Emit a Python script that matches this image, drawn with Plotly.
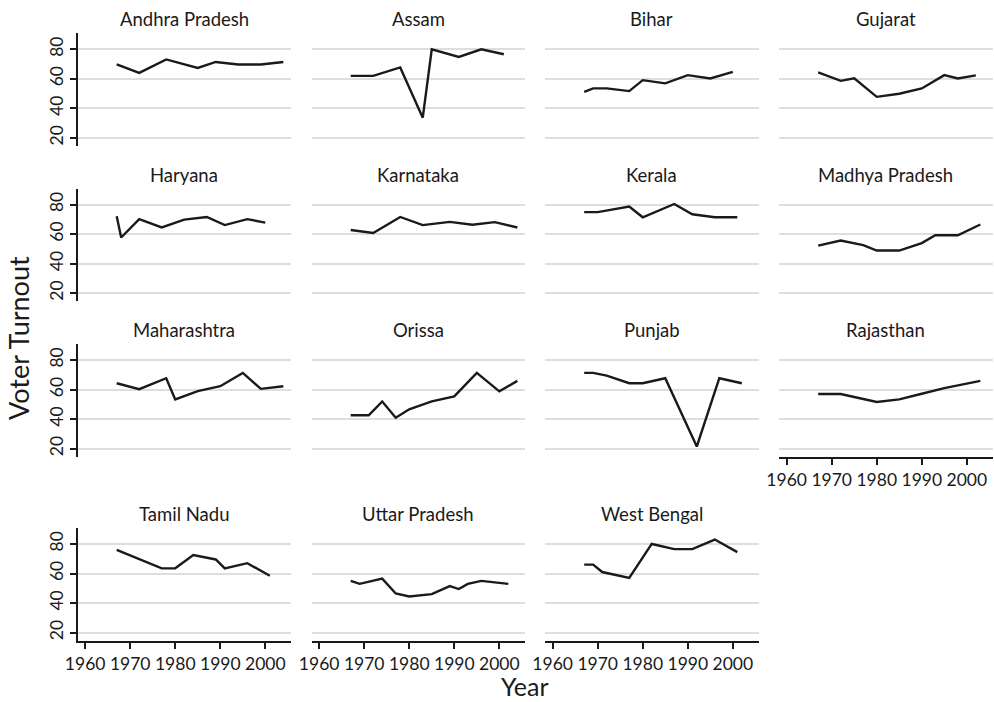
import plotly.graph_objects as go

W, H = 994, 702

states = ["Andhra Pradesh", "Assam", "Bihar", "Gujarat",
          "Haryana", "Karnataka", "Kerala", "Madhya Pradesh",
          "Maharashtra", "Orissa", "Punjab", "Rajasthan",
          "Tamil Nadu", "Uttar Pradesh", "West Bengal"]

andhra_years = [1967, 1972, 1978, 1985, 1989, 1994, 1999, 2004]
andhra_turnout = [69.7, 64.0, 73.1, 67.4, 71.4, 69.7, 69.7, 71.4]

assam_years = [1967, 1972, 1978, 1983, 1985, 1991, 1996, 2001]
assam_turnout = [62.0, 62.0, 67.7, 33.7, 80.0, 74.8, 80.0, 76.6]

bihar_years = [1967, 1969, 1972, 1977, 1980, 1985, 1990, 1995, 2000]
bihar_turnout = [51.2, 53.5, 53.5, 51.7, 59.1, 56.9, 62.5, 60.2, 64.7]

gujarat_years = [1967, 1972, 1975, 1980, 1985, 1990, 1995, 1998, 2002]
gujarat_turnout = [64.3, 58.6, 60.4, 47.8, 49.9, 53.5, 62.5, 60.2, 62.3]

haryana_years = [1967, 1968, 1972, 1977, 1982, 1987, 1991, 1996, 2000]
haryana_turnout = [72.1, 57.7, 70.1, 64.5, 69.8, 71.6, 66.1, 70.1, 67.8]

karnataka_years = [1967, 1972, 1978, 1983, 1989, 1994, 1999, 2004]
karnataka_turnout = [62.8, 60.8, 71.6, 66.1, 68.3, 66.3, 68.1, 64.5]

kerala_years = [1967, 1970, 1977, 1980, 1987, 1991, 1996, 2001]
kerala_turnout = [74.9, 74.9, 78.7, 71.4, 80.4, 73.4, 71.4, 71.4]

mp_years = [1967, 1972, 1977, 1980, 1985, 1990, 1993, 1998, 2003]
mp_turnout = [52.2, 55.7, 52.6, 48.9, 48.9, 53.9, 59.2, 59.2, 66.5]

maharashtra_years = [1967, 1972, 1978, 1980, 1985, 1990, 1995, 1999, 2004]
maharashtra_turnout = [64.3, 60.3, 67.7, 53.4, 59.0, 62.3, 71.3, 60.5, 62.3]

orissa_years = [1967, 1971, 1974, 1977, 1980, 1985, 1990, 1995, 2000, 2004]
orissa_turnout = [42.6, 42.6, 52.0, 41.0, 46.7, 52.0, 55.4, 71.3, 58.8, 65.9]

punjab_years = [1967, 1969, 1972, 1977, 1980, 1985, 1992, 1997, 2002]
punjab_turnout = [71.3, 71.3, 69.5, 64.3, 64.3, 67.7, 21.5, 67.7, 64.3]

rajasthan_years = [1967, 1972, 1980, 1985, 1990, 1995, 2003]
rajasthan_turnout = [57.0, 57.0, 51.6, 53.4, 57.2, 61.0, 65.9]

tn_years = [1967, 1977, 1980, 1984, 1989, 1991, 1996, 2001]
tn_turnout = [76.0, 63.5, 63.5, 72.5, 69.5, 63.5, 67.0, 58.5]

up_years = [1967, 1969, 1974, 1977, 1980, 1985, 1989, 1991, 1993, 1996, 2002]
up_turnout = [55.0, 53.0, 56.5, 46.5, 44.5, 46.0, 51.5, 49.5, 53.0, 55.0, 53.0]

wb_years = [1967, 1969, 1971, 1977, 1982, 1987, 1991, 1996, 2001]
wb_turnout = [66.0, 66.0, 61.0, 57.0, 80.0, 76.5, 76.5, 83.0, 74.5]

series_years = [andhra_years, assam_years, bihar_years, gujarat_years,
                haryana_years, karnataka_years, kerala_years, mp_years,
                maharashtra_years, orissa_years, punjab_years, rajasthan_years,
                tn_years, up_years, wb_years]
series_turnout = [andhra_turnout, assam_turnout, bihar_turnout, gujarat_turnout,
                  haryana_turnout, karnataka_turnout, kerala_turnout, mp_turnout,
                  maharashtra_turnout, orissa_turnout, punjab_turnout, rajasthan_turnout,
                  tn_turnout, up_turnout, wb_turnout]

x_ticks = [1960, 1970, 1980, 1990, 2000]
x_tick_labels = ["1960", "1970", "1980", "1990", "2000"]
y_ticks = [20, 40, 60, 80]
y_tick_labels = ["20", "40", "60", "80"]

FONT = "Lato"
INK = "#1a1a1a"
GRID = "#dedede"

col_left = [77.5, 311.5, 545.0, 779.0]
col_w = 213.5
row_top = [33.3, 188.6, 344.1, 528.0]
row_h = 112.6

x_range = [1958.3, 2005.7]
y_range = [14.6, 90.8]

bottom_panels = {11, 12, 13, 14}
TICK_SIZE = 17.5
STRIP_SIZE = 18.5
TITLE_SIZE = 25

fig = go.Figure()
layout = dict(
    width=W, height=H,
    margin=dict(l=0, r=0, t=0, b=0, autoexpand=False),
    paper_bgcolor="white", plot_bgcolor="white",
    showlegend=False,
    font=dict(family=FONT, color=INK),
)
annotations = []

for i, name in enumerate(states):
    r, c = divmod(i, 4)
    x0 = col_left[c] / W
    x1 = (col_left[c] + col_w) / W
    y1 = 1 - row_top[r] / H
    y0 = 1 - (row_top[r] + row_h) / H
    suffix = "" if i == 0 else str(i + 1)
    xa = dict(domain=[x0, x1], range=x_range, anchor="y" + suffix,
              showgrid=False, zeroline=False, fixedrange=True,
              automargin=False)
    ya = dict(domain=[y0, y1], range=y_range, anchor="x" + suffix,
              showgrid=True, gridcolor=GRID, gridwidth=2,
              tickvals=y_ticks, ticktext=y_tick_labels,
              zeroline=False, fixedrange=True, automargin=False)
    if i in bottom_panels:
        xa.update(showline=True, linecolor=INK, linewidth=2,
                  ticks="outside", ticklen=6, tickwidth=2, tickcolor=INK,
                  tickvals=x_ticks, ticktext=x_tick_labels,
                  showticklabels=True, tickangle=0,
                  tickfont=dict(size=TICK_SIZE, color=INK, family=FONT))
    else:
        xa.update(showline=False, ticks="", showticklabels=False)
    if c == 0:
        ya.update(showline=True, linecolor=INK, linewidth=2,
                  ticks="outside", ticklen=6, tickwidth=2, tickcolor=INK,
                  showticklabels=True, tickangle=-90,
                  tickfont=dict(size=TICK_SIZE, color=INK, family=FONT))
    else:
        ya.update(showline=False, ticks="", showticklabels=False)
    layout["xaxis" + suffix] = xa
    layout["yaxis" + suffix] = ya

    fig.add_trace(go.Scatter(
        x=series_years[i], y=series_turnout[i], mode="lines",
        line=dict(color=INK, width=2.4),
        xaxis="x" + suffix, yaxis="y" + suffix,
        hoverinfo="skip", showlegend=False,
    ))

    annotations.append(dict(
        text=name, xref="paper", yref="paper",
        x=(col_left[c] + col_w / 2) / W,
        y=1 - (row_top[r] - 14) / H,
        xanchor="center", yanchor="middle", showarrow=False,
        font=dict(size=STRIP_SIZE, color=INK, family=FONT),
    ))

annotations.append(dict(
    text="Voter Turnout", xref="paper", yref="paper",
    x=19 / W, y=1 - 338 / H, textangle=-90,
    xanchor="center", yanchor="middle", showarrow=False,
    font=dict(size=27, color=INK, family=FONT),
))
annotations.append(dict(
    text="Year", xref="paper", yref="paper",
    x=525 / W, y=1 - 685.5 / H,
    xanchor="center", yanchor="middle", showarrow=False,
    font=dict(size=TITLE_SIZE, color=INK, family=FONT),
))
layout["annotations"] = annotations

fig.update_layout(**layout)
fig.write_html("out.html")
